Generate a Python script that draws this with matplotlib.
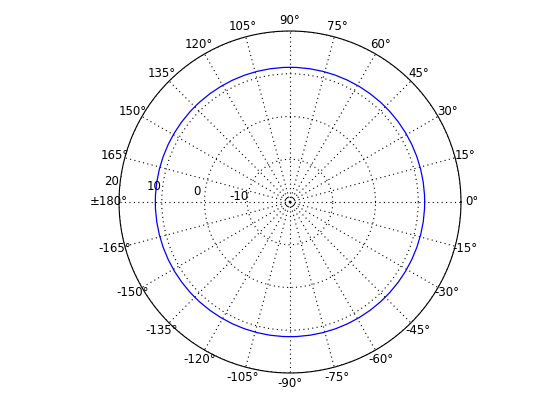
import numpy as np
import matplotlib
matplotlib.use("Agg")
import matplotlib.pyplot as plt

# data
theta_deg = [0, 90, 180, 270, 360]
gain_db = [11.5, 11.5, 11.5, 11.5, 11.5]
r_ticks = [-10, 0, 10, 20]
r_ticklabels = ["-10", "0", "10", "20"]
theta_ticks = list(range(0, 360, 15))
theta_labels = ["0°", "15°", "30°", "45°", "60°", "75°", "90°", "105°", "120°",
                "135°", "150°", "165°", "±180°", "-165°", "-150°", "-135°",
                "-120°", "-105°", "-90°", "-75°", "-60°", "-45°", "-30°", "-15°"]

fig = plt.figure(figsize=(5.6, 4.2), dpi=100)
ax = fig.add_axes([0.2125, 0.1119, 0.6107, 0.8143], projection="polar")
ln, = ax.plot(np.deg2rad(theta_deg), gain_db, color="#0000ff", lw=0.9)
ln.get_path()._interpolation_steps = 60
ax.set_ylim(-20, 20)
ax.set_yticks(r_ticks)
ax.set_yticklabels([])
for r, lab in zip(r_ticks, r_ticklabels):
    ax.text(np.deg2rad(173.5), r + 1.9, lab, fontsize=8.5, ha="center", va="center")
ax.set_thetagrids(theta_ticks, theta_labels, fontsize=8.5)
ax.tick_params(axis="x", pad=0.5)
ax.grid(True, color="black", linestyle=(0, (1, 3)), linewidth=0.8)
ax.spines["polar"].set_linewidth(0.8)
ax.spines["polar"].set_color("black")
ax.xaxis.set_tick_params(direction="in", length=5, width=0.8)
fig.savefig("out.png", dpi=100)
